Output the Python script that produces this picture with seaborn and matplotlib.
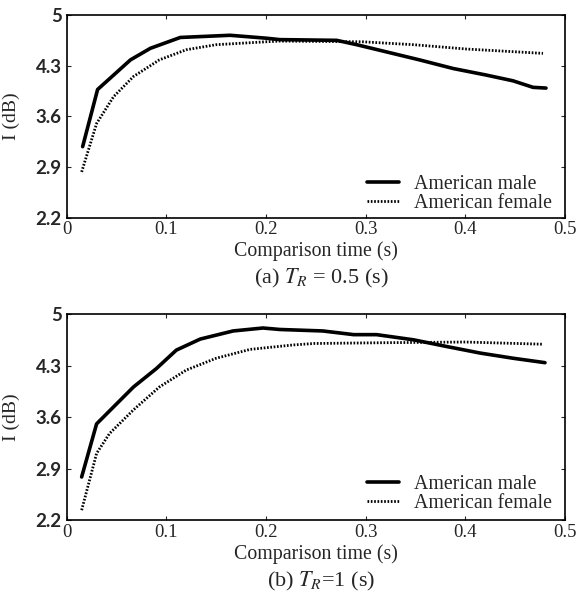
import matplotlib
matplotlib.use("Agg")
import matplotlib.pyplot as plt
import seaborn as sns
import pandas as pd

# Panel (a): T_R = 0.5 s
a_male_t = [0.016, 0.031, 0.064, 0.084, 0.114, 0.164, 0.200, 0.214, 0.271, 0.291,
            0.321, 0.354, 0.388, 0.421, 0.448, 0.468, 0.481]
a_male_i = [3.18, 3.97, 4.38, 4.54, 4.69, 4.72, 4.68, 4.66, 4.65, 4.59,
            4.49, 4.38, 4.26, 4.17, 4.09, 4.00, 3.99]
a_female_t = [0.015, 0.030, 0.047, 0.067, 0.093, 0.120, 0.150, 0.200, 0.214, 0.297,
              0.348, 0.401, 0.478]
a_female_i = [2.83, 3.50, 3.87, 4.15, 4.38, 4.52, 4.59, 4.63, 4.64, 4.63,
              4.59, 4.53, 4.47]

# Panel (b): T_R = 1 s
b_male_t = [0.015, 0.030, 0.047, 0.067, 0.090, 0.110, 0.134, 0.167, 0.197, 0.214,
            0.257, 0.288, 0.311, 0.348, 0.381, 0.415, 0.448, 0.480]
b_male_i = [2.79, 3.51, 3.74, 4.01, 4.26, 4.51, 4.66, 4.77, 4.81, 4.79,
            4.77, 4.72, 4.72, 4.65, 4.56, 4.47, 4.40, 4.34]
b_female_t = [0.015, 0.023, 0.030, 0.043, 0.067, 0.093, 0.120, 0.150, 0.184, 0.227,
              0.248, 0.314, 0.400, 0.478]
b_female_i = [2.34, 2.75, 3.11, 3.38, 3.70, 4.01, 4.24, 4.40, 4.52, 4.58,
              4.60, 4.61, 4.62, 4.59]

series_labels = ["American male", "American female"]
x_ticks = [0, 0.1, 0.2, 0.3, 0.4, 0.5]
x_tick_labels = ["0", "0.1", "0.2", "0.3", "0.4", "0.5"]
y_ticks = [2.2, 2.9, 3.6, 4.3, 5.0]
y_tick_labels = ["2.2", "2.9", "3.6", "4.3", "5"]
captions = [r"(a) $T_R$ = 0.5 (s)", r"(b) $T_R$=1 (s)"]

sns.set_style("ticks")
plt.rcParams["font.family"] = ["Liberation Serif", "DejaVu Serif"]
plt.rcParams["mathtext.fontset"] = "stix"

fig = plt.figure(figsize=(5.8, 5.92), dpi=100)
ax_a = fig.add_axes([0.115, 0.6326, 0.859, 0.342])
ax_b = fig.add_axes([0.115, 0.1208, 0.859, 0.3488])

panels = [
    (ax_a, a_male_t, a_male_i, a_female_t, a_female_i, 0.022, -0.116, 0.5211),
    (ax_b, b_male_t, b_male_i, b_female_t, b_female_i, 0.036, -0.114, 0.0093),
]

for k, (ax, mt, mi, ft, fi, leg_y, xlab_y, cap_y) in enumerate(panels):
    male = pd.DataFrame({"t": mt, "I": mi})
    female = pd.DataFrame({"t": ft, "I": fi})
    sns.lineplot(data=male, x="t", y="I", ax=ax, color="black", lw=2.6,
                 label=series_labels[0])
    sns.lineplot(data=female, x="t", y="I", ax=ax, color="black", lw=2.0,
                 linestyle=(0, (0.6, 0.6)), label=series_labels[1])
    ax.set_xlim(0, 0.5)
    ax.set_ylim(2.2, 5.0)
    ax.set_xticks(x_ticks)
    ax.set_xticklabels(x_tick_labels, fontsize=13.5)
    ax.set_yticks(y_ticks)
    ax.set_yticklabels(y_tick_labels, fontsize=13.5, family="Lato",
                       fontweight="bold")
    ax.tick_params(direction="in", top=True, right=True, length=3,
                   width=0.8)
    ax.tick_params(axis="x", pad=2.5)
    ax.tick_params(axis="y", pad=3.5)
    for sp in ax.spines.values():
        sp.set_linewidth(1.2)
        sp.set_color("black")
    ax.set_xlabel("Comparison time (s)", fontsize=14.3)
    ax.xaxis.set_label_coords(0.5, xlab_y)
    ax.set_ylabel("I (dB)", fontsize=14)
    ax.yaxis.set_label_coords(-0.094, 0.5)
    fig.text(0.554, cap_y, captions[k], ha="center", va="baseline",
             fontsize=16)
    ax.legend(loc="lower right", bbox_to_anchor=(0.974, leg_y), frameon=False,
              fontsize=14.3, handlelength=1.6, handletextpad=0.75,
              labelspacing=0.02, borderaxespad=0, borderpad=0)

fig.savefig("out.png", dpi=100)
